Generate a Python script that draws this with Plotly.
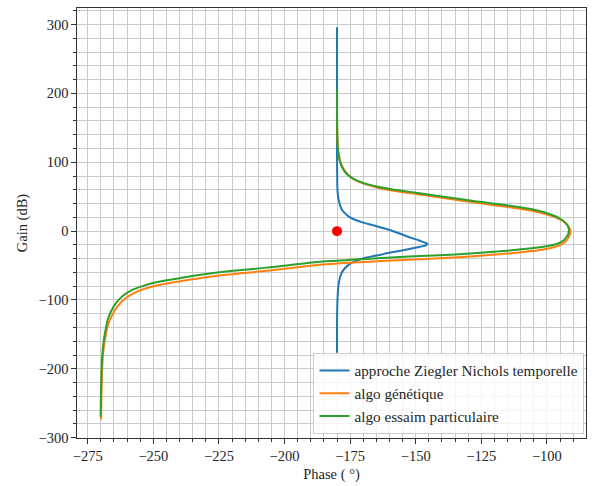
import plotly.graph_objects as go

# Nichols plot data: phase (deg) and gain (dB) for each tuned controller
zn_phase = [-180.0, -180.0, -180.0, -180.0, -180.0, -179.95, -179.9, -179.8, -179.5, -179.0,
            -178.4, -177.4, -175.6, -173.2, -170.0, -166.0, -161.5, -157.0, -152.9, -148.4,
            -146.2, -145.5, -146.3, -148.4, -151.5, -154.8, -158.5, -161.1, -163.7, -166.5,
            -168.7, -170.8, -172.6, -175.1, -177.0, -178.3, -179.2, -179.7, -179.9, -180.0,
            -180.0]
zn_gain = [296, 250, 200, 150, 110, 85, 70, 58, 48, 40,
           33, 27.5, 21.5, 16.5, 12.3, 8.3, 3.4, -2.3, -8.2, -14.0,
           -17.2, -19.0, -20.8, -22.7, -25.2, -27.8, -30.3, -32.2, -34.6, -36.6,
           -38.3, -40.4, -42.8, -47.6, -53.9, -61.0, -73.0, -90.0, -109.0, -140.0,
           -176.5]

ga_phase = [-180.0, -180.0, -179.8, -179.6, -179.2, -178.6, -177.6, -176.3, -174.4, -171.8,
            -168.3, -163.3, -156.8, -148.8, -140.0, -127.5, -115.0, -104.8, -98.3, -94.5,
            -92.1, -91.1, -91.3, -92.5, -94.3, -97.0, -102.6, -115.3, -128.0, -140.8,
            -161.1, -178.9, -186.5, -206.9, -228.5, -240.0, -246.4, -252.7, -257.6, -261.2,
            -263.8, -265.7, -267.1, -268.1, -268.8, -269.3, -269.6, -269.8, -269.9]
ga_gain = [200, 160, 135, 120, 109, 99.5, 91, 84, 77.5, 72,
           67.2, 62, 57.6, 53.3, 48.5, 41.4, 35.2, 29, 22.2, 16,
           8.8, 1.5, -5.5, -13.5, -18.8, -23, -27.5, -32.6, -36.4, -39.3,
           -43, -46.8, -48.8, -57.6, -66.3, -73, -77.3, -83, -90.3, -99.3,
           -110, -122, -134, -150, -166, -186, -212, -242, -273.5]

pso_phase = [-180.0, -180.0, -179.9, -179.8, -179.5, -179.0, -178.2, -177.0, -175.2, -172.8,
             -169.5, -164.5, -158.0, -150.0, -140.8, -128.0, -115.3, -105.2, -98.8, -95.0,
             -92.7, -91.7, -91.8, -92.9, -94.5, -97.0, -102.6, -115.3, -128.0, -140.8,
             -161.1, -178.9, -186.5, -206.9, -228.5, -240.0, -246.4, -252.7, -257.8, -261.6,
             -264.2, -266.1, -267.4, -268.3, -269.0, -269.5, -269.8, -270.0, -270.1]
pso_gain = [206, 170, 140, 125, 113, 103, 94, 86, 79.5, 74,
            69.3, 64.3, 60, 55.8, 50.8, 43.7, 37.5, 31.3, 24.5, 18.3,
            11.1, 4, -3, -10.5, -15.5, -19.5, -23.5, -28.4, -32.2, -35,
            -38.5, -42.8, -44.5, -53, -61.5, -68.3, -72.5, -78, -85, -93.8,
            -104.3, -116.4, -128.4, -145, -162, -182, -208, -238, -269.5]

critical_point = ([-180.0], [0.0])

series = [
    ("approche Ziegler Nichols temporelle", zn_phase, zn_gain, "#1f77b4"),
    ("algo génétique", ga_phase, ga_gain, "#ff7f0e"),
    ("algo essaim particulaire", pso_phase, pso_gain, "#2ca02c"),
]

font_family = "'Liberation Serif', 'Times New Roman', 'DejaVu Serif', serif"
text_color = "#262626"
grid_color = "#cbcbcb"
tick_font = dict(family=font_family, size=14.5, color=text_color)

fig = go.Figure()
for name, ph, g, color in series:
    fig.add_trace(go.Scatter(
        x=ph, y=g, mode="lines", name=name,
        line=dict(color=color, width=2, shape="spline", smoothing=1.0),
    ))

fig.add_trace(go.Scatter(
    x=critical_point[0], y=critical_point[1], mode="markers",
    marker=dict(color="#ff0000", size=10), showlegend=False,
))

axis_common = dict(
    showgrid=True, gridcolor=grid_color, gridwidth=1.3,
    zeroline=False, showline=True, linecolor="#333333", linewidth=1.2,
    mirror=True, ticks="outside", ticklen=4.5, tickwidth=1, tickcolor="#333333",
    tickfont=tick_font,
)

fig.update_xaxes(
    range=[-279.1, -85.1], tickmode="linear", tick0=-275, dtick=25,
    minor=dict(dtick=5, showgrid=True, gridcolor=grid_color, gridwidth=1.3,
               ticks="outside", ticklen=2.5, tickcolor="#333333"),
    title=dict(text="Phase ( °)", font=tick_font, standoff=5),
    **axis_common,
)
fig.update_yaxes(
    range=[-300.4, 324], tickmode="linear", tick0=-300, dtick=100,
    minor=dict(dtick=20, showgrid=True, gridcolor=grid_color, gridwidth=1.3,
               ticks="outside", ticklen=2.5, tickcolor="#333333"),
    title=dict(text="Gain (dB)", font=tick_font, standoff=7),
    **axis_common,
)

fig.update_layout(
    width=596, height=486,
    margin=dict(l=77, r=10, t=7, b=47),
    plot_bgcolor="white", paper_bgcolor="white",
    font=dict(family=font_family, size=14.5, color=text_color),
    legend=dict(
        x=0.997, xanchor="right", y=0.009, yanchor="bottom",
        bgcolor="rgba(255,255,255,0.8)", bordercolor="#cccccc", borderwidth=1,
        font=dict(family=font_family, size=15.2, color=text_color),
        itemwidth=30,
    ),
)

fig.write_html("out.html")
